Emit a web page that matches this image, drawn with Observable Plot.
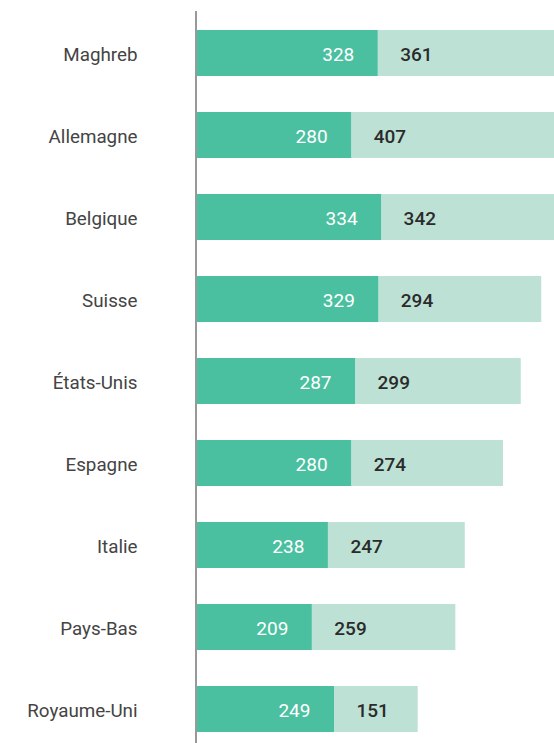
<!DOCTYPE html>
<html>
<head>
<meta charset="utf-8">
<script src="https://cdn.jsdelivr.net/npm/d3@7"></script>
<script src="https://cdn.jsdelivr.net/npm/@observablehq/plot@0.6"></script>
<style>
  html, body { margin: 0; padding: 0; background: #fff; overflow: hidden; }
</style>
</head>
<body>
<div id="chart"></div>
<script>
const categories = ["Maghreb", "Allemagne", "Belgique", "Suisse", "États-Unis", "Espagne", "Italie", "Pays-Bas", "Royaume-Uni"];
const seriesA = [328, 280, 334, 329, 287, 280, 238, 209, 249];
const seriesB = [361, 407, 342, 294, 299, 274, 247, 259, 151];

const rows = categories.map((c, i) => ({cat: c, a: seriesA[i], b: seriesB[i], total: seriesA[i] + seriesB[i]}));

const font = "Roboto, 'Noto Sans', sans-serif";
const chart = Plot.plot({
  width: 554,
  height: 743,
  marginLeft: 196,
  marginRight: 0,
  marginTop: 11,
  marginBottom: 0,
  style: {fontFamily: font, background: "#fff", overflow: "hidden"},
  x: {domain: [0, 646], axis: null},
  y: {domain: categories, range: [11, 751.25], padding: 0, label: null},
  marks: [
    Plot.barX(rows, {y: "cat", x1: "a", x2: "total", fill: "#bde2d5", insetTop: 18, insetBottom: 18, clip: true}),
    Plot.barX(rows, {y: "cat", x1: 0, x2: "a", fill: "#4bc0a0", insetTop: 18, insetBottom: 18, clip: true}),
    Plot.ruleX([0], {stroke: "#999", strokeWidth: 2, dx: -0.5}),
    Plot.text(rows, {y: "cat", x: "a", text: d => String(d.a), textAnchor: "end", dx: -24, dy: 1, fill: "#fff", fontSize: 19, fontWeight: 400}),
    Plot.text(rows, {y: "cat", x: "a", text: d => String(d.b), textAnchor: "start", dx: 22, dy: 1, fill: "#2b2b2b", fontSize: 19, fontWeight: 500}),
    Plot.axisY({tickSize: 0, tickPadding: 59, fontSize: 18.8, color: "#444", label: null, dy: 1})
  ]
});
document.getElementById("chart").appendChild(chart);
</script>
</body>
</html>
